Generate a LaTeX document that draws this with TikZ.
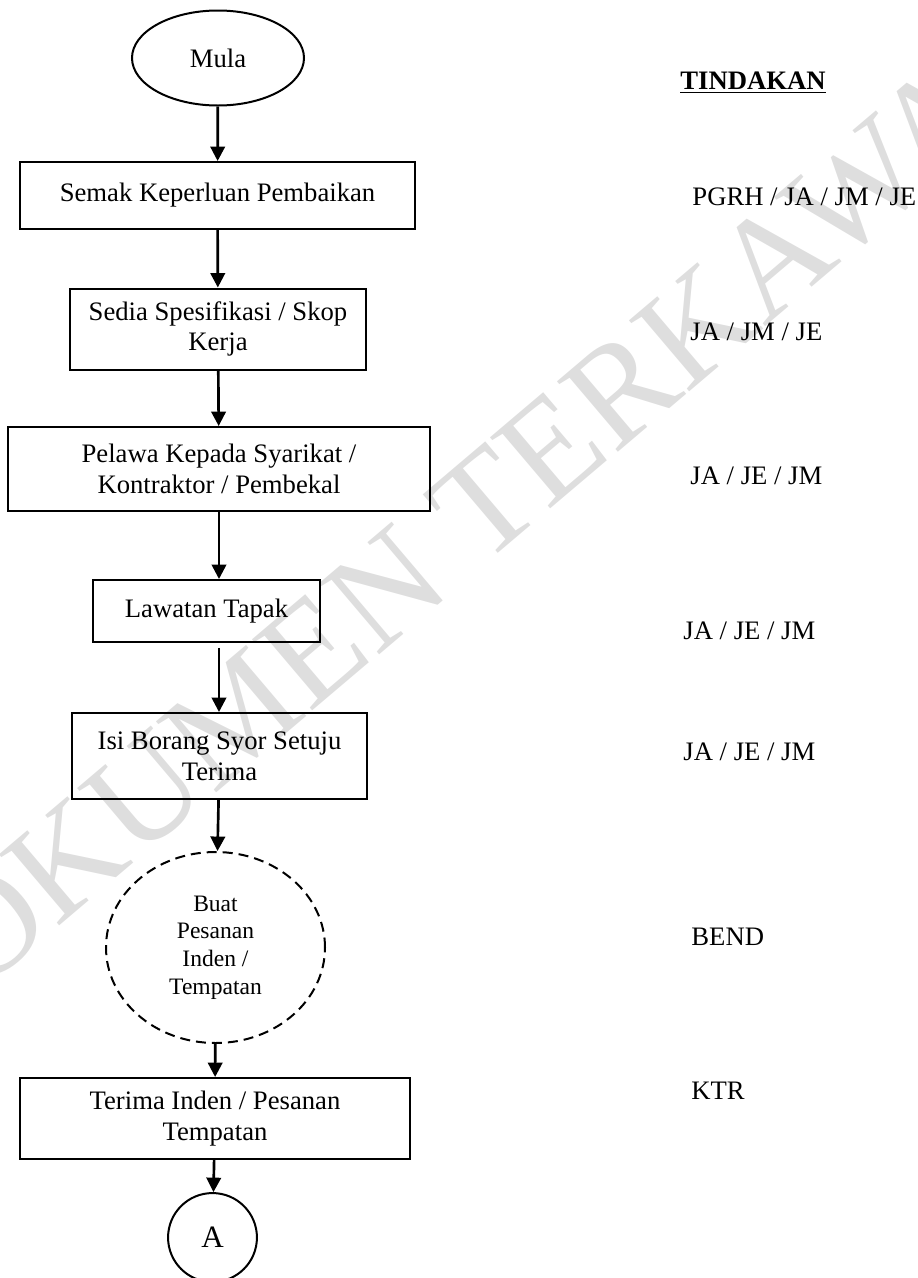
\documentclass[tikz,border=0pt]{standalone}
\usepackage{fontspec}
\setmainfont{Liberation Serif}
\usetikzlibrary{arrows.meta,shapes.geometric}

\begin{document}
\begin{tikzpicture}[x=0.45pt,y=-0.45pt,
    box/.style={draw,rectangle,line width=0.9pt,align=center,inner sep=0pt,
      font=\fontsize{12}{13.8}\selectfont},
    arr/.style={-{Triangle[length=6.5pt,width=6.5pt]},line width=1.2pt},
    act/.style={anchor=west,inner sep=0pt,font=\fontsize{12}{14}\selectfont}]
  \useasboundingbox (0,0) rectangle (917,1278);

  % watermark
  \node[rotate=40.3,text=black!13,font=\fontsize{64}{64}\selectfont] (tanda) at (455,530) {DOKUMEN TERKAWAL};

  % flow
  \node[draw,ellipse,line width=0.9pt,inner sep=0pt,minimum width=77.4pt,minimum height=42.75pt,
    font=\fontsize{12}{14}\selectfont] (mula) at (218,58) {Mula};
  \node[box,minimum width=177.75pt,minimum height=30.15pt] (semak)   at (217.5,195.5) {Semak Keperluan Pembaikan};
  \node[box,minimum width=133.2pt,minimum height=36.45pt]  (sedia)   at (218,329)     {Sedia Spesifikasi / Skop\\Kerja};
  \node[box,minimum width=189.9pt,minimum height=37.8pt]   (pelawa)  at (219,469)     {Pelawa Kepada Syarikat /\\Kontraktor / Pembekal};
  \node[box,minimum width=102.15pt,minimum height=27.9pt]  (lawatan) at (206.5,611)   {Lawatan Tapak};
  \node[box,minimum width=132.3pt,minimum height=38.7pt]   (isi)     at (219.5,756)   {Isi Borang Syor Setuju\\Terima};
  \node[draw,ellipse,dashed,dash pattern=on 4.5pt off 2.7pt,line width=0.9pt,inner sep=0pt,
    minimum width=98.55pt,minimum height=85.95pt,align=center,
    font=\fontsize{10.6}{12.5}\selectfont] (buat) at (215.5,947.5) {Buat\\Pesanan\\Inden /\\Tempatan};
  \node[box,minimum width=175.5pt,minimum height=36.45pt]  (terima)  at (215,1118.5)  {Terima Inden / Pesanan\\Tempatan};
  \node[draw,circle,line width=0.9pt,inner sep=0pt,minimum size=40pt,
    font=\fontsize{14}{14}\selectfont] (conA) at (212.5,1237.5) {A};

  % tindakan
  \node[act,font=\fontsize{12}{14}\selectfont\bfseries] (tindakan) at (680,83) {\underline{TINDAKAN}};
  \node[act] (t1) at (692,197)  {PGRH / JA / JM / JE};
  \node[act] (t2) at (690,332)  {JA / JM / JE};
  \node[act] (t3) at (690,476)  {JA / JE / JM};
  \node[act] (t4) at (683,631)  {JA / JE / JM};
  \node[act] (t5) at (683,752)  {JA / JE / JM};
  \node[act] (t6) at (691,937)  {BEND};
  \node[act] (t7) at (691,1091) {KTR};

  \path (mula)    edge[arr] (semak);
  \path (semak)   edge[arr] (sedia);
  \path (sedia)   edge[arr] (pelawa);
  \path (pelawa.south) edge[arr] (pelawa.south |- lawatan.north);
  \path ([yshift=-2.2pt]lawatan.south -| pelawa.south) edge[arr] (isi.north -| pelawa.south);
  \path (isi)     edge[arr] (buat);
  \path (buat)    edge[arr] (terima);
  \path (terima)  edge[arr] (conA);
\end{tikzpicture}
\end{document}
